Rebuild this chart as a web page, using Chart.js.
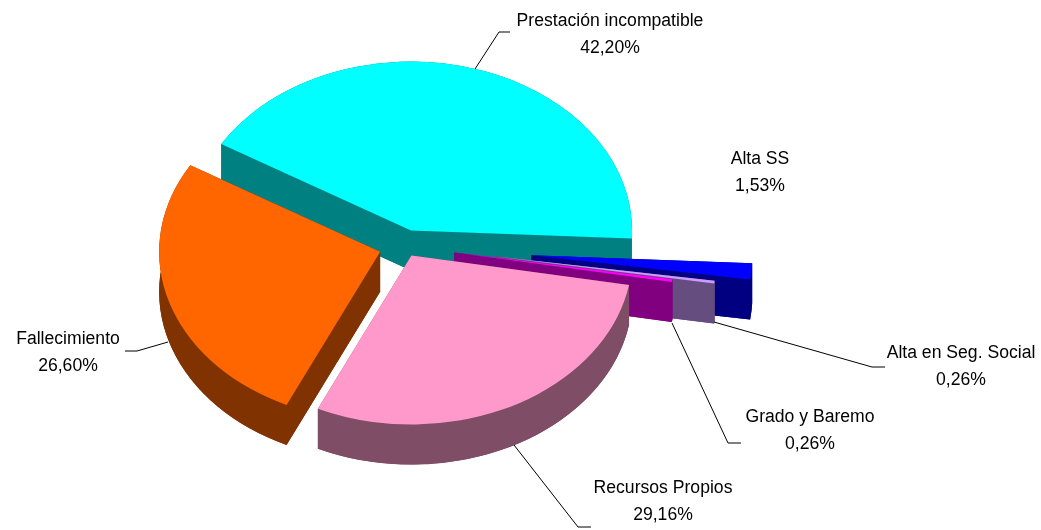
<!DOCTYPE html>
<html>
<head>
<meta charset="utf-8">
<title>Causas</title>
<script src="https://cdn.jsdelivr.net/npm/chart.js@4"></script>
<style>
  html, body { margin: 0; padding: 0; background: #fff; }
  #wrap { width: 1041px; height: 530px; }
</style>
</head>
<body>
<div id="wrap"><canvas id="pie-chart" width="1041" height="530"></canvas></div>
<script>
const categories = ["Prestación incompatible", "Alta SS", "Alta en Seg. Social", "Grado y Baremo", "Recursos Propios", "Fallecimiento"];
const shares = [42.20, 1.53, 0.26, 0.26, 29.16, 26.60];
const shareLabels = ["42,20%", "1,53%", "0,26%", "0,26%", "29,16%", "26,60%"];
const explode = [21, 127, 92, 50, 14, 26];
const topColors = ["#00ffff", "#0000ff", "#cc99ff", "#ff00ff", "#ff99cc", "#ff6600"];
const wallColors = ["#008080", "#000080", "#664d80", "#800080", "#804d66", "#803300"];

// label centres, first line y, and the leader polyline of each slice
const labelSpots = [[610, 21], [760, 159], [961, 353], [810, 417], [663, 488], [68, 339]];
const leaders = [
  [[475, 69], [499, 32], [510, 32]],
  [],
  [[714, 322], [872, 367], [885, 367]],
  [[672, 323], [728, 443], [741, 443]],
  [[514, 445], [578, 527], [591, 527]],
  [[168, 342], [137, 351], [125, 351]],
];

const flat = 0.765;
const depth = 40;

function tipOf(arc) {
  const mid = (arc.startAngle + arc.endAngle) / 2;
  return {
    x: arc.x + Math.cos(mid) * arc.options.offset,
    y: arc.y + Math.sin(mid) * arc.options.offset * flat,
  };
}

function rim(arc, tip, angle) {
  return {
    x: tip.x + Math.cos(angle) * arc.outerRadius,
    y: tip.y + Math.sin(angle) * arc.outerRadius * flat,
  };
}

function fillTop(ctx, arc, lift) {
  const tip = tipOf(arc);
  ctx.beginPath();
  ctx.moveTo(tip.x, tip.y + lift);
  ctx.ellipse(tip.x, tip.y + lift, arc.outerRadius, arc.outerRadius * flat, 0, arc.startAngle, arc.endAngle);
  ctx.closePath();
  ctx.fill();
}

function fillSide(ctx, tip, edge) {
  ctx.beginPath();
  ctx.moveTo(tip.x, tip.y);
  ctx.lineTo(edge.x, edge.y);
  ctx.lineTo(edge.x, edge.y + depth);
  ctx.lineTo(tip.x, tip.y + depth);
  ctx.closePath();
  ctx.fill();
}

function fillWalls(ctx, arc) {
  const tip = tipOf(arc);
  const rx = arc.outerRadius;
  const ry = arc.outerRadius * flat;
  fillTop(ctx, arc, depth);
  fillSide(ctx, tip, rim(arc, tip, arc.startAngle));
  fillSide(ctx, tip, rim(arc, tip, arc.endAngle));
  ctx.beginPath();
  ctx.ellipse(tip.x, tip.y, rx, ry, 0, arc.startAngle, arc.endAngle);
  ctx.ellipse(tip.x, tip.y + depth, rx, ry, 0, arc.endAngle, arc.startAngle, true);
  ctx.closePath();
  ctx.fill();
}

const tiltedPie = {
  id: "tiltedPie",
  beforeDatasetsDraw(chart) {
    const ctx = chart.ctx;
    chart.getDatasetMeta(0).data.forEach(function (arc, i) {
      ctx.fillStyle = wallColors[i];
      fillWalls(ctx, arc);
      ctx.fillStyle = topColors[i];
      fillTop(ctx, arc, 0);
    });
    return false;
  },
  afterDraw(chart) {
    const ctx = chart.ctx;
    ctx.save();
    ctx.strokeStyle = "#000";
    ctx.lineWidth = 1;
    leaders.forEach(function (line) {
      if (!line.length) {
        return;
      }
      ctx.beginPath();
      line.forEach(function (p, i) {
        if (i === 0) {
          ctx.moveTo(p[0], p[1]);
        } else {
          ctx.lineTo(p[0], p[1]);
        }
      });
      ctx.stroke();
    });
    ctx.fillStyle = "#000";
    ctx.font = '17.6px "Liberation Sans"';
    ctx.textAlign = "center";
    ctx.textBaseline = "middle";
    categories.forEach(function (name, i) {
      const spot = labelSpots[i];
      ctx.fillText(name, spot[0], spot[1]);
      ctx.fillText(shareLabels[i], spot[0], spot[1] + 27);
    });
    ctx.restore();
  },
};

new Chart(document.getElementById("pie-chart"), {
  type: "pie",
  data: {
    labels: categories,
    datasets: [{
      data: shares,
      backgroundColor: topColors,
      offset: explode,
      borderWidth: 0,
    }],
  },
  options: {
    responsive: false,
    animation: false,
    events: [],
    rotation: 300.8,
    radius: 221,
    layout: { padding: { left: 0, right: 231, top: 0, bottom: 38 } },
    plugins: {
      legend: { display: false },
      tooltip: { enabled: false },
    },
  },
  plugins: [tiltedPie],
});
</script>
</body>
</html>
